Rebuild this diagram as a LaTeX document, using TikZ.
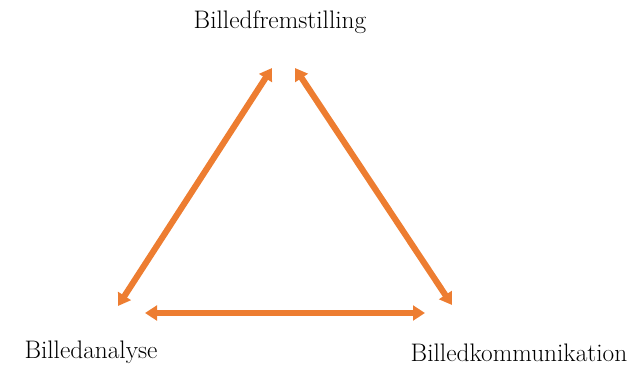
\documentclass[tikz,border=0pt]{standalone}
\usepackage{tikz}
\usetikzlibrary{arrows.meta}
\definecolor{pilorange}{HTML}{ED7D31}
\newcommand{\pilbredde}{4.6pt}

\begin{document}
\begin{tikzpicture}[x=0.75pt,y=-0.75pt]
            %\draw[help lines] (0,0) grid (633,365);
            \useasboundingbox (0,0) rectangle (633,365);
            \tikzset{felt/.style = {font=\fontsize{19}{22}\selectfont, inner sep=0pt},
                     pil/.style = {draw=pilorange, line width=\pilbredde,
                                   {Triangle[length=9pt,width=11pt]}-{Triangle[length=9pt,width=11pt]}}}
            \node[felt] (fremstilling) at (280,22) {Billedfremstilling};
            \node[felt] (analyse) at (91,352) {Billedanalyse};
            \node[felt] (kommunikation) at (519,353) {Billedkommunikation};
            \coordinate (aTop) at (272,68);
            \coordinate (aVen) at (118,306);
            \coordinate (kTop) at (295,68);
            \coordinate (kHoj) at (452,305);
            \coordinate (bVen) at (145,313);
            \coordinate (bHoj) at (425,313);
            \draw[pil] (aVen) -- (aTop);
            \draw[pil] (kTop) -- (kHoj);
            \draw[pil] (bVen) -- (bHoj);
    \end{tikzpicture}
\end{document}
